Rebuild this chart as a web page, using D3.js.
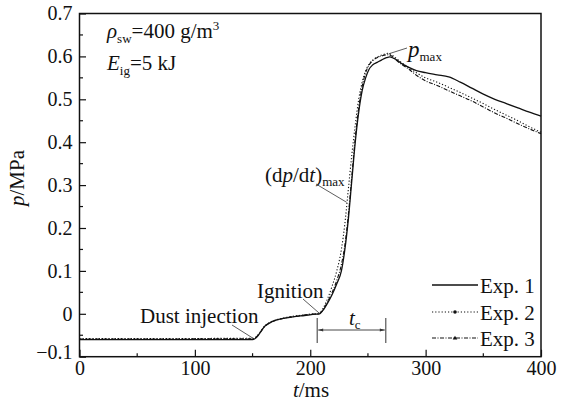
<!DOCTYPE html>
<html>
<head>
<meta charset="utf-8">
<script src="https://cdn.jsdelivr.net/npm/d3@7"></script>
<style>
  body { margin: 0; background: #fff; }
  svg text { font-family: "Liberation Serif", "Times New Roman", Times, serif; fill: #111; }
</style>
</head>
<body>
<div id="chart"></div>
<script>
// time axis (ms) and pressure (MPa)
var t1 = [0, 150, 152, 155, 158, 161, 165, 170, 178, 185, 195, 205, 208, 211, 215, 219, 223, 227, 230, 233, 236, 239, 242, 245, 248, 251, 254, 258, 262, 266, 269, 272, 276, 280, 285, 292, 300, 310, 320, 330, 340, 350, 360, 370, 380, 390, 400];
var p1 = [-0.06, -0.06, -0.058, -0.05, -0.038, -0.028, -0.021, -0.015, -0.01, -0.007, -0.004, -0.001, 0, 0.008, 0.025, 0.045, 0.07, 0.1, 0.15, 0.22, 0.31, 0.4, 0.47, 0.52, 0.55, 0.57, 0.58, 0.586, 0.592, 0.597, 0.599, 0.596, 0.59, 0.582, 0.575, 0.567, 0.562, 0.557, 0.552, 0.54, 0.526, 0.512, 0.5, 0.49, 0.48, 0.47, 0.461];

var t2 = [0, 150, 153, 156, 160, 165, 172, 180, 190, 200, 207, 211, 215, 219, 223, 227, 230, 233, 236, 239, 242, 245, 248, 251, 255, 259, 263, 267, 271, 275, 280, 285, 292, 300, 310, 320, 330, 340, 350, 360, 370, 380, 390, 400];
var p2 = [-0.058, -0.057, -0.054, -0.045, -0.03, -0.02, -0.013, -0.008, -0.004, -0.001, 0, 0.012, 0.035, 0.065, 0.1, 0.15, 0.21, 0.29, 0.37, 0.44, 0.5, 0.54, 0.566, 0.582, 0.593, 0.6, 0.604, 0.607, 0.603, 0.594, 0.584, 0.574, 0.562, 0.55, 0.54, 0.528, 0.516, 0.503, 0.49, 0.476, 0.463, 0.45, 0.436, 0.423];

var t3 = [0, 150, 153, 156, 160, 165, 172, 180, 190, 200, 207, 211, 215, 219, 223, 227, 230, 233, 236, 239, 242, 245, 248, 251, 255, 259, 263, 267, 271, 275, 280, 285, 292, 300, 310, 320, 330, 340, 350, 360, 370, 380, 390, 400];
var p3 = [-0.059, -0.058, -0.055, -0.046, -0.031, -0.021, -0.014, -0.009, -0.005, -0.001, 0, 0.009, 0.028, 0.05, 0.078, 0.115, 0.16, 0.23, 0.32, 0.41, 0.48, 0.53, 0.562, 0.58, 0.592, 0.598, 0.602, 0.604, 0.6, 0.59, 0.58, 0.571, 0.556, 0.543, 0.532, 0.52, 0.508, 0.496, 0.482, 0.468, 0.456, 0.443, 0.431, 0.42];

var xTicks = [0, 100, 200, 300, 400];
var yTicks = [-0.1, 0, 0.1, 0.2, 0.3, 0.4, 0.5, 0.6, 0.7];
var legendNames = ["Exp. 1", "Exp. 2", "Exp. 3"];

var w = 566, h = 402;
var padL = 79.5, padR = 541, padT = 13.5, padB = 356.7;
var serif = "Liberation Serif";

var svg = d3.select("#chart").append("svg")
  .attr("width", w)
  .attr("height", h)
  .attr("font-family", serif);

var x = d3.scaleLinear().domain([0, 400]).range([padL, padR]);
var y = d3.scaleLinear().domain([-0.1, 0.7]).range([padB, padT]);

// frame
svg.append("rect")
  .attr("x", padL).attr("y", padT)
  .attr("width", padR - padL).attr("height", padB - padT)
  .attr("fill", "none").attr("stroke", "#111").attr("stroke-width", 1.5);

// minor ticks (inside)
var xMinor = d3.range(50, 400, 100);
var yMinor = d3.range(-0.05, 0.7, 0.1);
svg.append("g").selectAll("line").data(xMinor).enter().append("line")
  .attr("x1", d => x(d)).attr("x2", d => x(d))
  .attr("y1", padB).attr("y2", padB - 3.5)
  .attr("stroke", "#111").attr("stroke-width", 1.2);
svg.append("g").selectAll("line").data(yMinor).enter().append("line")
  .attr("x1", padL).attr("x2", padL + 3.5)
  .attr("y1", d => y(d)).attr("y2", d => y(d))
  .attr("stroke", "#111").attr("stroke-width", 1.2);

// axes with inward ticks
var xAxis = d3.axisBottom(x).tickValues(xTicks).tickSize(-7).tickPadding(6).tickFormat(d3.format("d"));
var yAxis = d3.axisLeft(y).tickValues(yTicks).tickSize(-6.5).tickPadding(7)
  .tickFormat(d => d === 0 ? "0" : (d < 0 ? "\u2212" + Math.abs(d).toFixed(1) : d.toFixed(1)));

var gx = svg.append("g").attr("transform", "translate(0," + padB + ")").call(xAxis);
var gy = svg.append("g").attr("transform", "translate(" + padL + ",0)").call(yAxis);
[gx, gy].forEach(function(g) {
  g.attr("font-family", serif);
  g.select(".domain").remove();
  g.selectAll(".tick line").attr("stroke", "#111").attr("stroke-width", 1.2);
  g.selectAll(".tick text").attr("font-size", 20).attr("fill", "#111");
});
gx.selectAll(".tick text").attr("dy", "0.62em");
gy.selectAll(".tick text").filter(d => d === -0.1).attr("dy", "0.1em");

// axis titles
var yt = svg.append("text")
  .attr("transform", "translate(24,178) rotate(-90)")
  .attr("text-anchor", "middle").attr("font-size", 21);
yt.append("tspan").attr("font-style", "italic").text("p");
yt.append("tspan").text("/MPa");

var xt = svg.append("text")
  .attr("x", 311).attr("y", 397)
  .attr("text-anchor", "middle").attr("font-size", 21);
xt.append("tspan").attr("font-style", "italic").text("t");
xt.append("tspan").text("/ms");

// curves
var line = d3.line()
  .x(d => x(d[0]))
  .y(d => y(d[1]))
  .curve(d3.curveMonotoneX);

var series = [
  { t: t1, p: p1, dash: null, width: 1.3 },
  { t: t2, p: p2, dash: "1.2,2", width: 1.1 },
  { t: t3, p: p3, dash: "4,1.5,1,1.5", width: 1.1 }
];

series.forEach(function(s) {
  svg.append("path")
    .datum(d3.zip(s.t, s.p))
    .attr("d", line)
    .attr("fill", "none")
    .attr("stroke", "#111")
    .attr("stroke-width", s.width)
    .attr("stroke-dasharray", s.dash);
});

// legend
var legY = [285, 312, 338];
legendNames.forEach(function(name, i) {
  svg.append("line")
    .attr("x1", 432).attr("x2", 478)
    .attr("y1", legY[i]).attr("y2", legY[i])
    .attr("stroke", "#111")
    .attr("stroke-width", series[i].width)
    .attr("stroke-dasharray", series[i].dash);
  if (i === 1) {
    svg.append("circle").attr("cx", 455).attr("cy", legY[i]).attr("r", 1.8).attr("fill", "#111");
  }
  if (i === 2) {
    svg.append("path").attr("d", "M455," + (legY[i] - 2.2) + "L457.3," + (legY[i] + 1.6) + "L452.7," + (legY[i] + 1.6) + "Z").attr("fill", "#111");
  }
  svg.append("text")
    .attr("x", 480).attr("y", legY[i] + 7.5)
    .attr("font-size", 21)
    .text(name);
});

// annotations
var lead = function(x1, y1, x2, y2) {
  svg.append("line")
    .attr("x1", x1).attr("y1", y1).attr("x2", x2).attr("y2", y2)
    .attr("stroke", "#333").attr("stroke-width", 0.8);
};

var a1 = svg.append("text").attr("x", 107).attr("y", 38).attr("font-size", 21);
a1.append("tspan").attr("font-style", "italic").text("\u03c1");
a1.append("tspan").attr("font-size", 13).attr("dy", 5).text("sw");
a1.append("tspan").attr("dy", -5).text("=400 g/m");
a1.append("tspan").attr("font-size", 13).attr("dy", -8).text("3");

var a2 = svg.append("text").attr("x", 107).attr("y", 70).attr("font-size", 21);
a2.append("tspan").attr("font-style", "italic").text("E");
a2.append("tspan").attr("font-size", 13).attr("dy", 5).text("ig");
a2.append("tspan").attr("dy", -5).text("=5 kJ");

var a3 = svg.append("text").attr("x", 408).attr("y", 57).attr("font-size", 23);
a3.append("tspan").attr("font-style", "italic").text("p");
a3.append("tspan").attr("font-size", 13).attr("dy", 4).text("max");
lead(407, 48, x(268), y(0.606));

var a4 = svg.append("text").attr("x", 265).attr("y", 182).attr("font-size", 21);
a4.append("tspan").text("(d");
a4.append("tspan").attr("font-style", "italic").text("p");
a4.append("tspan").text("/d");
a4.append("tspan").attr("font-style", "italic").text("t");
a4.append("tspan").text(")");
a4.append("tspan").attr("font-size", 13).attr("dy", 4).text("max");
lead(316, 184, x(231.5), y(0.26));

svg.append("text").attr("x", 257).attr("y", 298).attr("font-size", 21).text("Ignition");
lead(303, 299, x(208), y(0.001));

svg.append("text").attr("x", 140).attr("y", 323).attr("font-size", 21).text("Dust injection");
lead(232, 325, x(151), y(-0.058));

// t_c span
var tc0 = 206, tc1 = 265.5;
[tc0, tc1].forEach(function(d) {
  svg.append("line")
    .attr("x1", x(d)).attr("x2", x(d))
    .attr("y1", 318).attr("y2", 343)
    .attr("stroke", "#333").attr("stroke-width", 1);
});
svg.append("line")
  .attr("x1", x(tc0) + 1).attr("x2", x(tc1) - 1)
  .attr("y1", 330).attr("y2", 330)
  .attr("stroke", "#333").attr("stroke-width", 0.9);
svg.append("path")
  .attr("d", "M" + (x(tc0) + 1) + ",330l5,-1.6v3.2Z M" + (x(tc1) - 1) + ",330l-5,-1.6v3.2Z")
  .attr("fill", "#333");
var a5 = svg.append("text").attr("x", 349).attr("y", 325).attr("font-size", 21);
a5.append("tspan").attr("font-style", "italic").text("t");
a5.append("tspan").attr("font-size", 13).attr("dy", 4).text("c");
</script>
</body>
</html>
